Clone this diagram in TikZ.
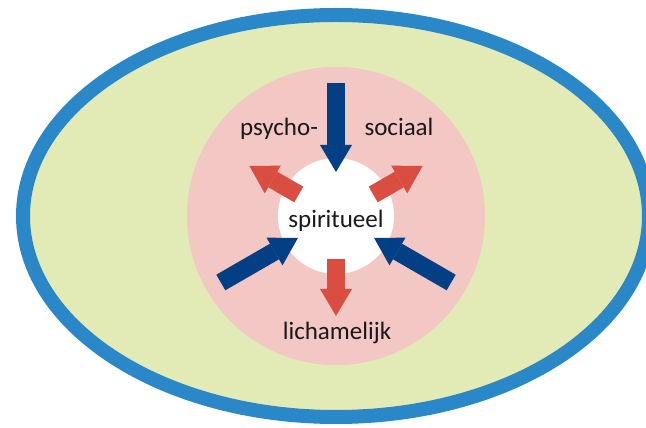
\documentclass[tikz,border=0pt]{standalone}
\usepackage{fontspec}
\setmainfont{Carlito}
\usetikzlibrary{shapes.geometric, arrows.meta}
\definecolor{ringblue}{HTML}{2A87C8}
\definecolor{fieldgreen}{HTML}{E2EAB6}
\definecolor{pinkfill}{HTML}{F2C7C4}
\definecolor{inblue}{HTML}{023F84}
\definecolor{outred}{HTML}{D94E41}
\tikzstyle{outer} = [ellipse, minimum width=626pt, minimum height=402pt, inner sep=0pt,
draw=ringblue, line width=14pt, fill=fieldgreen]
\tikzstyle{middle} = [circle, minimum size=298pt, inner sep=0pt, outer sep=0pt, fill=pinkfill]
\tikzstyle{kern} = [circle, minimum size=116pt, inner sep=0pt, outer sep=0pt, fill=white]
\tikzstyle{word} = [anchor=base, inner sep=0pt, text=black!90, font=\fontsize{25}{30}\selectfont]
\tikzstyle{inarrow} = [line width=18pt, draw=inblue, shorten >=-14pt,
-{Triangle[width=32pt, length=27pt, line width=0pt]}]
\tikzstyle{outarrow} = [line width=18pt, draw=outred, shorten <=-15pt,
-{Triangle[width=32pt, length=27pt, line width=0pt]}]

\begin{document}
\begin{tikzpicture}[x=1pt, y=1pt]
\useasboundingbox (-336,-212) rectangle (310,216);

% ------------------------- nodes -------------------------

% ----- node: rings
\node(ring) [outer] at (0,0) {};
\node(field)[middle] at (0,0) {};
\node(spirit)[kern] at (0,0) {};
% ----- coordinates for the arrows
\coordinate (intop) at (90:133);
\coordinate (inleft) at (210:133);
\coordinate (inright) at (330:133);
\coordinate (outleft) at (150:100);
\coordinate (outright) at (30:100);
\coordinate (outdown) at (270:100);
% ----- node: labels
\node(psycho)[word] at (-57,80) {psycho-};
\node(sociaal)[word] at (63,80) {sociaal};
\node(spiritueel)[word] at (0,-12) {spiritueel};
\node(lichamelijk)[word] at (1,-124) {lichamelijk};

% ------------------------- connections -------------------------
\draw[inarrow](intop)--(spirit);
\draw[inarrow](inleft)--(spirit);
\draw[inarrow](inright)--(spirit);
\draw[outarrow](spirit)--(outleft);
\draw[outarrow](spirit)--(outright);
\draw[outarrow](spirit)--(outdown);

\end{tikzpicture}
\end{document}
